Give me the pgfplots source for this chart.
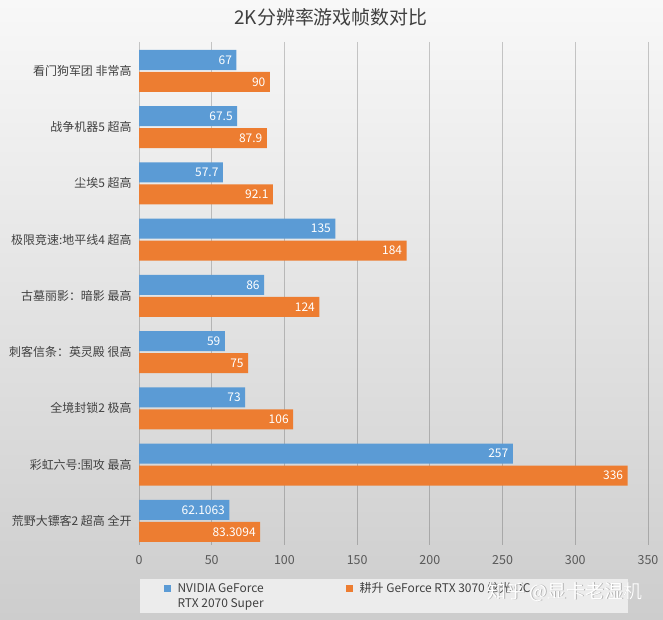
\documentclass[border=0pt]{standalone}
\usepackage{pgfplots}
\pgfplotsset{compat=1.18}
\usepackage{fontspec}
\setmainfont{Noto Sans CJK SC}
\definecolor{nvblue}{HTML}{5B9BD5}
\definecolor{gsorange}{HTML}{ED7D31}
\definecolor{txt}{HTML}{404040}
\definecolor{ticktxt}{HTML}{595959}
\definecolor{bgtop}{HTML}{F8F8F8}
\definecolor{bgbot}{HTML}{CDCDCD}
\definecolor{legfill}{HTML}{F0F0F0}
\begin{document}
\begin{tikzpicture}
\shade[top color=bgtop, bottom color=bgbot] (0bp,0bp) rectangle (663bp,620bp);
\fill[legfill, opacity=0.9] (140bp,7bp) rectangle (628bp,41bp);
\node[txt, font=\fontsize{19}{22}\selectfont] at (331bp,603bp) {2K分辨率游戏帧数对比};
\begin{axis}[
  at={(139bp,75bp)}, anchor=south west,
  scale only axis, width=509bp, height=503bp,
  xbar, y dir=reverse,
  xmin=0, xmax=350, ymin=-0.515, ymax=8.43,
  xtick={50,100,...,350},
  extra x ticks={0},
  extra x tick style={grid style={draw=black!65, opacity=1, line width=1bp}},
  ytick={0,...,8},
  yticklabels={{看门狗军团 非常高},{战争机器5 超高},{尘埃5 超高},{极限竞速:地平线4 超高},{古墓丽影：暗影 最高},{刺客信条：英灵殿 很高},{全境封锁2 极高},{彩虹六号:围攻 最高},{荒野大镖客2 超高 全开}},
  xmajorgrids,
  major grid style={draw=black, opacity=0.2, line width=0.75bp},
  major tick length=0pt,
  axis line style={draw=none},
  /pgf/number format/assume math mode=true,
  /pgf/number format/precision=4,
  xticklabel style={ticktxt, font=\fontsize{12.5}{14}\selectfont, yshift=-7bp},
  yticklabel style={txt, font=\fontsize{12}{14}\selectfont, xshift=-4bp},
  bar width=0.356,
  nodes near coords,
  every node near coord/.append style={anchor=east, white, font=\fontsize{12}{14}\selectfont, xshift=-1bp},
  legend style={at={(axis description cs:0.042,-0.066)}, anchor=north west, draw=none, fill=none,
    font=\fontsize{12}{15}\selectfont, text=txt,
    /tikz/every odd column/.append style={column sep=5bp},
    /tikz/every even column/.append style={column sep=80bp}},
  legend columns=2,
  legend cell align=left,
  legend image code/.code={\path[#1, draw=none] (0bp,-3.5bp) rectangle (7bp,3.5bp);},
]
\addplot[fill=nvblue, draw=none, bar shift=-0.195] coordinates {
  (67,0) (67.5,1) (57.7,2) (135,3) (86,4) (59,5) (73,6) (257,7) (62.1063,8)};
\addplot[fill=gsorange, draw=none, bar shift=0.195] coordinates {
  (90,0) (87.9,1) (92.1,2) (184,3) (124,4) (75,5) (106,6) (336,7) (83.3094,8)};
\legend{{\begin{tabular}[t]{@{}l@{}}NVIDIA GeForce\\RTX 2070 Super\end{tabular}},{耕升 GeForce RTX 3070 炫光 OC}}
\end{axis}
\node[black!45, opacity=0.6, font=\fontsize{19}{20}\selectfont] at (565.6bp,27.4bp) {知乎 @显卡老湿机};
\node[white, font=\fontsize{19}{20}\selectfont] at (565bp,28bp) {知乎 @显卡老湿机};
\end{tikzpicture}
\end{document}
